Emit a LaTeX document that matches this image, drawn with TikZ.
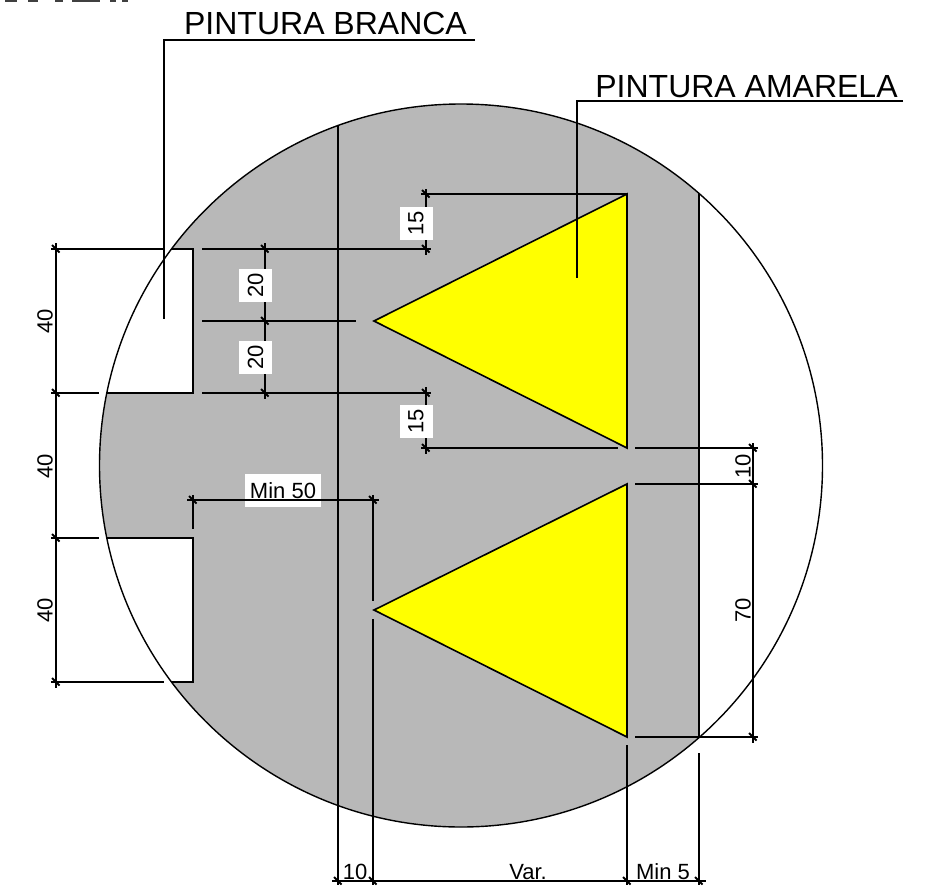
\documentclass[tikz,border=0pt]{standalone}
\usepackage{fontspec}
\setmainfont{Liberation Sans}
\definecolor{pavgray}{RGB}{184,184,184}
\definecolor{paintyellow}{RGB}{255,255,0}
\tikzset{
  x=1pt,y=-1pt,
  ln/.style={draw=black,line width=1.6pt},
  rim/.style={draw=black,line width=1.4pt},
  dimtxt/.style={font=\fontsize{22}{22}\selectfont,inner sep=0pt,text=black},
  dimbox/.style={dimtxt,fill=white,rotate=90,minimum width=33pt,minimum height=33pt},
  dimrot/.style={dimtxt,rotate=90},
  calltxt/.style={font=\fontsize{32}{32}\selectfont,inner sep=0pt,anchor=base,text=black},
  tickm/.style={draw=black,line width=1.8pt},
  cutoff/.style={draw=black!75,line width=4.5pt}
}
\newcommand{\tickat}[2]{\draw[tickm] (#1-4,#2-4) -- (#1+3.5,#2+3.5);}
\begin{document}
\begin{tikzpicture}
\useasboundingbox (0,0) rectangle (942,889);
\coordinate (cc) at (461,465.5);
% remains of the cropped heading
\begin{scope}
  \clip (0,0) rectangle (942,889);
  \draw[cutoff] (5,0) -- (17,0) (28,0) -- (38,0) (55,0) -- (63,0) (72,0) -- (100,0) (110,0) -- (116,0) (122,0) -- (128,0);
\end{scope}
% grey pavement
\begin{scope}
  \clip (0,0) rectangle (699,889);
  \fill[pavgray] (cc) circle[radius=361.5];
\end{scope}
\fill[white] (90,249) rectangle (193,393);
\fill[white] (90,538) rectangle (193,682);
% triangles
\filldraw[fill=paintyellow,ln] (374,321) -- (627,194) -- (627,448) -- cycle;
\filldraw[fill=paintyellow,ln] (374,610) -- (627,484) -- (627,737) -- cycle;
% outline
\draw[rim] (cc) circle[radius=361.5];
% white bars
\draw[ln] (172,249) -- (193,249) -- (193,393) -- (107,393);
\draw[ln] (107,538) -- (193,538) -- (193,682) -- (172,682);
% lane edges
\draw[ln] (338,125) -- (338,885);
\draw[ln] (699,193) -- (699,738);
\draw[ln] (699,753) -- (699,885);
\draw[ln] (627,745) -- (627,885);
\draw[ln] (373,495) -- (373,601);
\draw[ln] (373,619) -- (373,885);
% leaders
\draw[ln] (475,40) -- (164,40) -- (164,319);
\draw[ln] (903,101) -- (577,101) -- (577,278);
% horizontal extension lines
\draw[ln] (421,194) -- (627,194);
\draw[ln] (51,249) -- (164,249);
\draw[ln] (202,249) -- (431,249);
\draw[ln] (202,321) -- (356,321);
\draw[ln] (51,393) -- (99,393);
\draw[ln] (202,393) -- (431,393);
\draw[ln] (421,448) -- (618,448);
\draw[ln] (635,448) -- (758,448);
\draw[ln] (635,484) -- (758,484);
\draw[ln] (635,737) -- (758,737);
\draw[ln] (51,538) -- (99,538);
\draw[ln] (51,682) -- (164,682);
% Min 50 label background goes under its line
\node[dimtxt,fill=white,minimum width=76pt,minimum height=33pt] (min50) at (283,490.5) {Min 50};
\draw[ln] (187,500) -- (379,500);
\draw[ln] (193,495) -- (193,529);
% vertical dimension lines
\draw[ln] (56,243) -- (56,688);
\draw[ln] (265,243) -- (265,399);
\draw[ln] (426,189) -- (426,255);
\draw[ln] (426,387) -- (426,454);
\draw[ln] (753,443) -- (753,743);
\draw[ln] (332,881) -- (706,881);
% ticks
\tickat{56}{249}\tickat{56}{393}\tickat{56}{538}\tickat{56}{682}
\tickat{265}{249}\tickat{265}{321}\tickat{265}{393}
\tickat{426}{194}\tickat{426}{249}\tickat{426}{393}\tickat{426}{448}
\tickat{753}{448}\tickat{753}{484}\tickat{753}{737}
\tickat{193}{500}\tickat{373}{500}
\tickat{338}{881}\tickat{373}{881}\tickat{627}{881}\tickat{699}{881}
% labels
\node[calltxt] (lb) at (325.5,34) {PINTURA BRANCA};
\node[calltxt] (la) at (746.5,97) {PINTURA AMARELA};
\node[dimrot] (d40a) at (45,321) {40};
\node[dimrot] (d40b) at (45,466) {40};
\node[dimrot] (d40c) at (45,610) {40};
\node[dimbox] (d20a) at (255.5,285) {20};
\node[dimbox] (d20b) at (255.5,357) {20};
\node[dimbox] (d15a) at (416,223) {15};
\node[dimbox] (d15b) at (416,421) {15};
\node[dimrot] (d10r) at (743,466) {10};
\node[dimrot] (d70) at (743,610) {70};
\node[dimtxt,anchor=base] (d10b) at (355,879) {10};
\node[dimtxt,anchor=base] (dvar) at (528,879) {Var.};
\node[dimtxt,anchor=base] (dmin) at (663,879) {Min 5};
\end{tikzpicture}
\end{document}
